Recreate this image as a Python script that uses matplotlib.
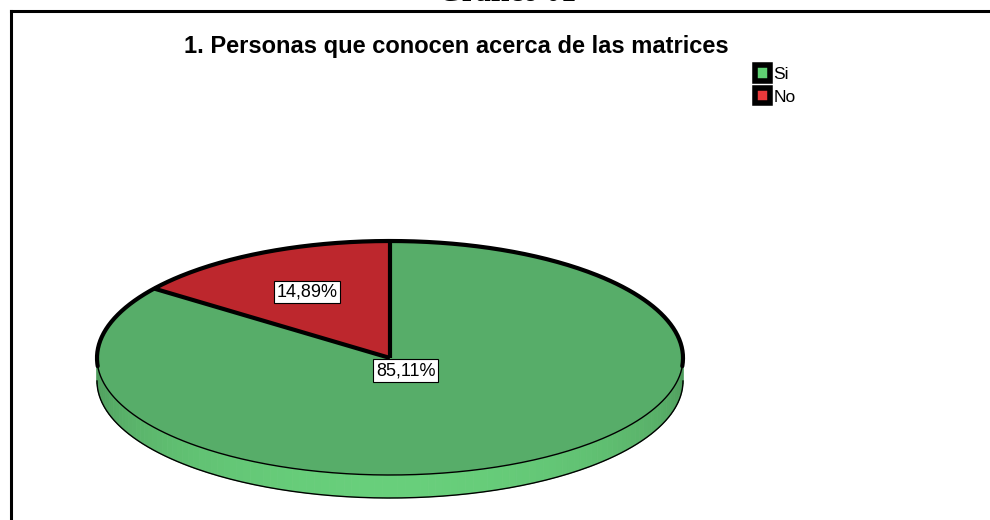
import numpy as np
import matplotlib
matplotlib.use("Agg")
import matplotlib.pyplot as plt
import matplotlib.colors as mcolors
from matplotlib.patches import Patch, Polygon
from matplotlib.lines import Line2D

# Data
categories = ["Si", "No"]
percentages = [85.11, 14.89]
pct_labels = ["85,11%", "14,89%"]
chart_title = "1. Personas que conocen acerca de las matrices"
caption = "Gráfico 01"

# Styles
top_colors = ["#57ad69", "#bd272d"]
side_colors = ["#68cf7b", "#d23a3f"]
legend_colors = ["#5fd072", "#e8393b"]
label_radius = [0.12, 0.63]

W, H = 990, 520
fig = plt.figure(figsize=(W / 100, H / 100), dpi=100)

# Elliptical pie placement (pixels): centre, radii and rim depth
cx, cy, rx, ry, depth_px = 390, 358, 293, 117, 23
depth = depth_px / ry

ax = fig.add_axes([0, 0, 1, 1])
wedges, _ = ax.pie(percentages, colors=top_colors, startangle=90,
                   counterclock=False, radius=1, center=(0, 0), frame=False,
                   wedgeprops=dict(edgecolor="none", linewidth=0))
for w in wedges:
    w.set_zorder(3)
ax.set_aspect("auto")
ax.set_xlim(-cx / rx, (W - cx) / rx)
ax.set_ylim((cy - H) / ry, cy / ry)
ax.axis("off")


def front_ranges(t1, t2):
    out = []
    for k in range(-2, 3):
        lo, hi = 180 + 360 * k, 360 + 360 * k
        a, b = max(t1, lo), min(t2, hi)
        if b > a:
            out.append((a, b))
    return out


# Rim of the disc, shaded so the front looks lit
for w, sc in zip(wedges, side_colors):
    base = np.array(mcolors.to_rgb(sc))
    for a, b in front_ranges(w.theta1, w.theta2):
        edges = np.linspace(a, b, max(2, int((b - a) / 1.5) + 1))
        for s0, s1 in zip(edges[:-1], edges[1:]):
            t = np.radians(np.linspace(s0, s1, 4))
            mid = np.radians((s0 + s1) / 2)
            shade = 0.74 + 0.26 * (-np.sin(mid))
            col = np.clip(base * shade, 0, 1)
            xs = np.concatenate([np.cos(t), np.cos(t[::-1])])
            ys = np.concatenate([np.sin(t), np.sin(t[::-1]) - depth])
            ax.add_patch(Polygon(np.column_stack([xs, ys]), closed=True,
                                 facecolor=col, edgecolor=col, lw=0.6, zorder=2))

# Outlines
t = np.radians(np.linspace(180, 360, 200))
ax.plot(np.cos(t), np.sin(t) - depth, color="black", lw=1.0, zorder=4)
ax.plot(np.cos(t), np.sin(t), color="black", lw=1.0, zorder=4)
t = np.radians(np.linspace(-4, 184, 300))
ax.plot(np.cos(t), np.sin(t), color="black", lw=3.0, zorder=5,
        solid_capstyle="round")
for w in wedges:
    ang = np.radians(w.theta1)
    ax.plot([0, np.cos(ang)], [0, np.sin(ang)], color="black", lw=3.0,
            zorder=5, solid_capstyle="butt")

# Percentage labels
for w, txt, r in zip(wedges, pct_labels, label_radius):
    mid = np.radians((w.theta1 + w.theta2) / 2)
    ax.text(r * np.cos(mid), r * np.sin(mid), txt, ha="center", va="center",
            fontsize=13, family="Liberation Sans", zorder=6,
            bbox=dict(boxstyle="square,pad=0.15", facecolor="white",
                      edgecolor="black", linewidth=0.8))

# Frame around the chart
fig.add_artist(Line2D([11 / W, 1.0], [1 - 11 / H, 1 - 11 / H], color="black",
                      lw=2.2, transform=fig.transFigure))
fig.add_artist(Line2D([11 / W, 11 / W], [1 - 11 / H, 0], color="black",
                      lw=2.2, transform=fig.transFigure))

# Titles
fig.text(507 / W, 1 - 1 / H, caption, ha="center", va="baseline",
         fontsize=22, weight="bold", family="Liberation Serif")
fig.text(456 / W, 1 - 47 / H, chart_title, ha="center", va="center",
         fontsize=17, weight="bold", family="Liberation Sans")

# Legend
handles = [Patch(facecolor=c, edgecolor="black", linewidth=4,
                 joinstyle="round", label=l)
           for c, l in zip(legend_colors, categories)]
fig.legend(handles=handles, loc="upper left",
           bbox_to_anchor=(755 / W, 1 - 65 / H), frameon=False,
           prop=dict(family="Liberation Sans", size=12.5),
           handlelength=0.85, handleheight=1.0, handletextpad=0.2,
           labelspacing=0.35, borderpad=0, borderaxespad=0)

fig.savefig("out.png", dpi=100)
